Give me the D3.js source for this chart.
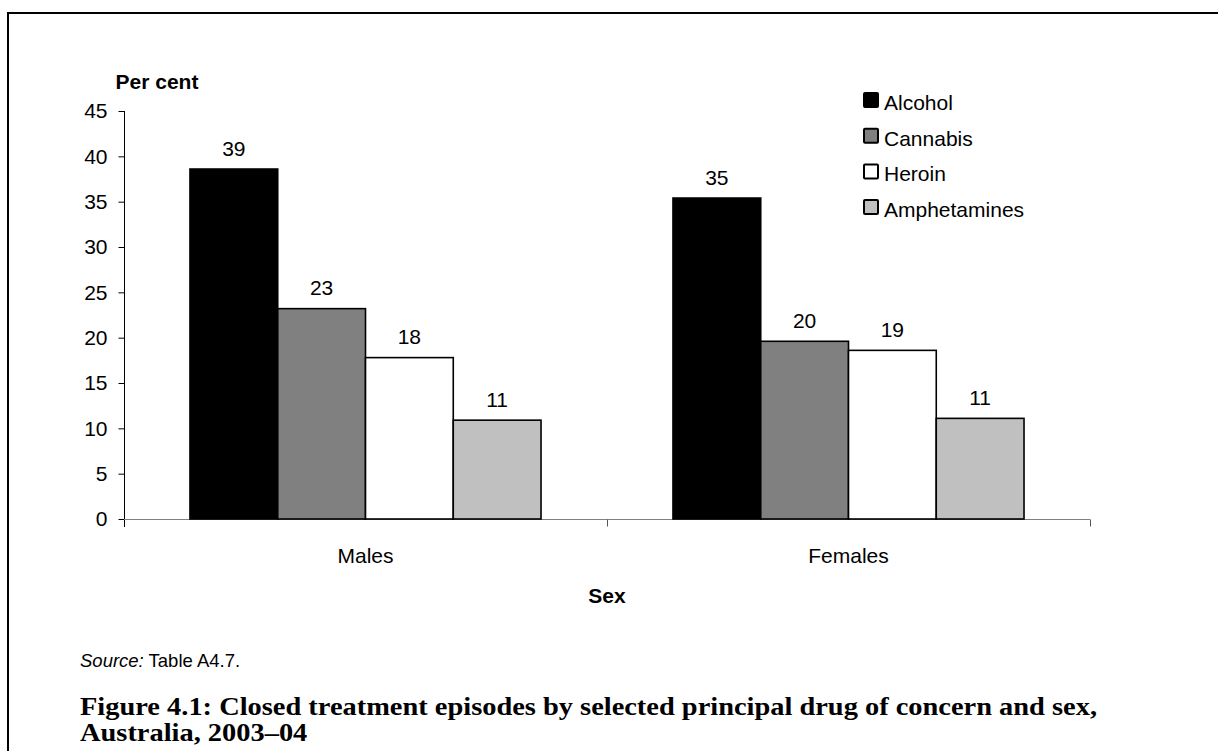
<!DOCTYPE html>
<html>
<head>
<meta charset="utf-8">
<script src="https://cdn.jsdelivr.net/npm/d3@7"></script>
<style>
  html, body { margin: 0; padding: 0; background: #fff; }
  svg { display: block; }
  text { fill: #000; }
</style>
</head>
<body>
<svg id="chart" width="1218" height="751"></svg>
<script>
// ---- data ----
const categories = ["Males", "Females"];
const seriesNames = ["Alcohol", "Cannabis", "Heroin", "Amphetamines"];
const alcohol = [38.6, 35.4];
const cannabis = [23.2, 19.6];
const heroin = [17.8, 18.6];
const amphetamines = [10.9, 11.1];
const yTicks = [0, 5, 10, 15, 20, 25, 30, 35, 40, 45];
const seriesColors = ["#000000", "#808080", "#ffffff", "#c0c0c0"];
const yTitle = "Per cent";
const xTitle = "Sex";
const sourceText = "Table A4.7.";
const titleLines = [
  "Figure 4.1: Closed treatment episodes by selected principal drug of concern and sex,",
  "Australia, 2003\u201304"
];

const seriesValues = [alcohol, cannabis, heroin, amphetamines];
const SANS = "'Liberation Sans', Arial, sans-serif";
const SERIF = "'Liberation Serif', 'Times New Roman', serif";

const svg = d3.select("#chart").style("font-family", SANS);

// frame (top and left rules)
svg.append("line").attr("x1", 8).attr("x2", 1218).attr("y1", 13).attr("y2", 13)
  .attr("stroke", "#000").attr("stroke-width", 2);
svg.append("line").attr("x1", 8).attr("x2", 8).attr("y1", 12).attr("y2", 751)
  .attr("stroke", "#000").attr("stroke-width", 2);

// scales
const y = d3.scaleLinear().domain([0, 45]).range([519, 111]);
const x0 = d3.scaleBand().domain(categories).range([124, 1090]).paddingInner(0).paddingOuter(0);
const bw = x0.bandwidth();
const x1 = d3.scaleBand().domain(seriesNames).range([bw * 0.1366, bw * 0.8634]).padding(0);

// y axis
const yAxis = d3.axisLeft(y).tickValues(yTicks).tickSize(6).tickPadding(11).tickFormat(d3.format("d"));
const gy = svg.append("g").attr("transform", "translate(124.5,0)").call(yAxis);
gy.select(".domain").attr("stroke", "#000").attr("d", `M0,${y(45)}V${y(0) + 8}`);
gy.selectAll(".tick line").attr("stroke", "#000");
gy.selectAll(".tick text").attr("font-size", 21).style("font-family", SANS).attr("fill", "#000");

// x axis
const xAxisG = svg.append("g").attr("transform", `translate(0,${y(0) + 0.5})`);
xAxisG.append("line").attr("x1", 124).attr("x2", 1090).attr("y1", 0).attr("y2", 0)
  .attr("stroke", "#808080").attr("stroke-width", 1.2);
const boundaries = categories.map(c => x0(c) + bw);
xAxisG.selectAll("line.xt").data(boundaries).join("line").attr("class", "xt")
  .attr("x1", d => d + 0.5).attr("x2", d => d + 0.5).attr("y1", 0).attr("y2", 7)
  .attr("stroke", "#555").attr("stroke-width", 1);

// category labels
svg.selectAll("text.cat").data(categories).join("text").attr("class", "cat")
  .attr("x", d => x0(d) + bw / 2).attr("y", 563)
  .attr("text-anchor", "middle").attr("font-size", 21).text(d => d);

// bars
const groups = svg.selectAll("g.grp").data(categories).join("g").attr("class", "grp")
  .attr("transform", d => `translate(${x0(d)},0)`);
groups.each(function(cat, ci) {
  const g = d3.select(this);
  seriesNames.forEach((s, si) => {
    const v = seriesValues[si][ci];
    g.append("rect")
      .attr("x", x1(s)).attr("width", x1.bandwidth())
      .attr("y", y(v)).attr("height", y(0) - y(v))
      .attr("fill", seriesColors[si]).attr("stroke", "#000").attr("stroke-width", 1.6);
    g.append("text")
      .attr("x", x1(s) + x1.bandwidth() / 2).attr("y", y(v) - 13.5)
      .attr("text-anchor", "middle").attr("font-size", 21)
      .text(d3.format(".0f")(v));
  });
});

// axis titles
svg.append("text").attr("x", 157).attr("y", 89).attr("text-anchor", "middle")
  .attr("font-size", 21).attr("font-weight", "bold").text(yTitle);
svg.append("text").attr("x", 607).attr("y", 603).attr("text-anchor", "middle")
  .attr("font-size", 21).attr("font-weight", "bold").text(xTitle);

// legend
const legend = svg.append("g").attr("transform", "translate(864,93)");
seriesNames.forEach((s, i) => {
  const row = legend.append("g").attr("transform", `translate(0,${i * 35.7})`);
  row.append("rect").attr("x", 0).attr("y", 0).attr("width", 14).attr("height", 14)
    .attr("fill", seriesColors[i]).attr("stroke", "#000").attr("stroke-width", 2).attr("rx", 1);
  row.append("text").attr("x", 20).attr("y", 17).attr("font-size", 21).text(s);
});

// source
const src = svg.append("text").attr("x", 80).attr("y", 667).attr("font-size", 18.5);
src.append("tspan").attr("font-style", "italic").text("Source:");
src.append("tspan").text(" " + sourceText);

// figure title
const t1 = svg.append("text").attr("x", 80).attr("y", 715)
  .style("font-family", SERIF).attr("font-weight", "bold").attr("font-size", 25)
  .text(titleLines[0]);
const natural = t1.node().getComputedTextLength();
const targetW = 1097 - 80;
const factor = targetW / natural;
t1.attr("textLength", targetW).attr("lengthAdjust", "spacingAndGlyphs");
const t2 = svg.append("text").attr("x", 80).attr("y", 741)
  .style("font-family", SERIF).attr("font-weight", "bold").attr("font-size", 25)
  .text(titleLines[1]);
const n2 = t2.node().getComputedTextLength();
t2.attr("textLength", n2 * factor).attr("lengthAdjust", "spacingAndGlyphs");
</script>
</body>
</html>
